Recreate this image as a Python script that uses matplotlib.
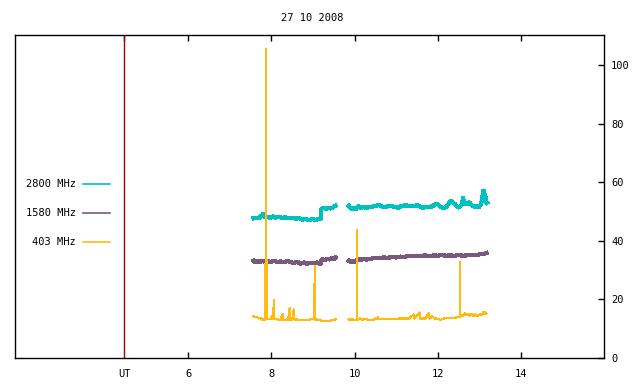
import numpy as np
import matplotlib
matplotlib.use('Agg')
import matplotlib.pyplot as plt
from matplotlib.lines import Line2D

nan = np.nan

title = '27 10 2008'
labels = ['2800 MHz', '1580 MHz', '403 MHz']
colors = ['#00c0c0', '#7a5a7c', '#ffbb11']
ut_hour = 4.46
xtick_vals = [6, 8, 10, 12, 14]
ytick_vals = [0, 20, 40, 60, 80, 100]

t_2800 = [7.57, 7.62, 7.68, 7.74, 7.78, 7.80, 7.82, 7.86, 7.90, 7.96, 8.02, 8.10,
          8.18, 8.26, 8.34, 8.42, 8.50, 8.58, 8.66, 8.74, 8.82, 8.90, 8.98, 9.06,
          9.14, 9.19, 9.20, 9.26, 9.32, 9.38, 9.44, 9.50, 9.54, nan,
          9.86, 9.90, 9.94, 9.98, 10.02, 10.06, 10.10, 10.16, 10.22, 10.28, 10.34,
          10.39, 10.45, 10.52, 10.59, 10.65, 10.71, 10.78, 10.85, 10.92, 10.98,
          11.05, 11.12, 11.20, 11.27, 11.34, 11.42, 11.50, 11.58, 11.64, 11.70,
          11.77, 11.84, 11.92, 11.97, 12.02, 12.08, 12.14, 12.20, 12.26, 12.31,
          12.36, 12.42, 12.47, 12.51, 12.55, 12.59, 12.61, 12.63, 12.66, 12.71,
          12.76, 12.80, 12.84, 12.88, 12.93, 12.98, 13.02, 13.05, 13.08, 13.10,
          13.12, 13.14, 13.16, 13.18]
v_2800 = [47.7, 47.9, 47.6, 48.3, 48.8, 49.3, 48.4, 47.9, 48.2, 47.7, 48.3, 47.9,
          48.2, 47.8, 48.0, 47.7, 47.9, 47.5, 47.8, 47.2, 47.5, 47.0, 47.4, 47.1,
          47.5, 47.3, 50.9, 51.2, 50.8, 51.3, 51.0, 51.6, 51.9, nan,
          51.9, 51.2, 50.7, 51.1, 50.6, 51.4, 51.8, 51.2, 51.7, 51.1, 51.6,
          51.4, 51.8, 51.9, 52.3, 51.7, 51.4, 51.7, 52.0, 51.7, 51.5,
          51.3, 51.8, 52.1, 52.0, 51.8, 51.9, 52.1, 51.7, 51.3, 51.4,
          51.5, 51.6, 52.2, 52.6, 52.2, 51.4, 51.2, 51.5, 52.6, 53.7,
          53.2, 52.4, 51.6, 51.3, 51.9, 52.4, 55.2, 52.6, 52.9, 52.6,
          53.2, 52.4, 51.9, 51.6, 51.7, 51.4, 52.0, 53.0, 55.5, 57.4,
          55.0, 56.2, 53.2, 52.9]

t_1580 = [7.57, 7.60, 7.66, 7.72, 7.78, 7.84, 7.90, 7.98, 8.06, 8.14, 8.22, 8.30,
          8.38, 8.46, 8.54, 8.62, 8.70, 8.78, 8.86, 8.94, 9.02, 9.10, 9.16, 9.19,
          9.21, 9.28, 9.34, 9.40, 9.46, 9.51, 9.54, nan,
          9.86, 9.90, 9.96, 10.02, 10.06, 10.10, 10.16, 10.22, 10.28, 10.36, 10.44,
          10.52, 10.60, 10.70, 10.80, 10.90, 11.00, 11.10, 11.20, 11.30, 11.40,
          11.50, 11.60, 11.70, 11.80, 11.90, 12.00, 12.10, 12.20, 12.30, 12.40,
          12.50, 12.60, 12.70, 12.80, 12.90, 13.00, 13.06, 13.12, 13.17]
v_1580 = [33.2, 32.6, 33.1, 32.8, 33.2, 32.7, 33.0, 32.8, 33.2, 32.7, 33.0, 32.6,
          33.1, 32.8, 32.4, 32.8, 32.2, 32.6, 32.1, 32.5, 32.3, 32.6, 32.0, 32.4,
          33.8, 33.4, 33.9, 33.6, 34.1, 33.8, 34.3, nan,
          33.2, 32.8, 33.1, 32.8, 33.5, 33.8, 33.4, 33.9, 33.6, 33.8, 34.0,
          34.1, 34.0, 34.3, 34.2, 34.4, 34.3, 34.6, 34.5, 34.8, 34.7,
          34.9, 34.8, 35.0, 34.8, 35.0, 34.9, 35.1, 34.9, 35.0, 34.9,
          35.1, 34.9, 35.0, 35.1, 35.2, 35.3, 35.6, 35.5, 35.8]

t_403 = [7.57, 7.61, 7.65, 7.69, 7.74, 7.78, 7.82, 7.855, 7.86, 7.865, 7.87, 7.875,
         7.88, 7.885, 7.94, 7.98, 8.01, 8.04, 8.06, 8.065, 8.12, 8.18, 8.22, 8.27,
         8.275, 8.36, 8.40, 8.44, 8.445, 8.50, 8.54, 8.545, 8.62, 8.70, 8.78, 8.86,
         8.94, 9.035, 9.04, 9.045, 9.10, 9.16, 9.22, 9.30, 9.38, 9.44, 9.50, 9.54, nan,
         9.86, 9.90, 9.94, 9.98, 10.055, 10.06, 10.065, 10.12, 10.18, 10.24, 10.30,
         10.40, 10.50, 10.56, 10.565, 10.70, 10.80, 10.90, 11.00, 11.07, 11.19,
         11.30, 11.43, 11.435, 11.57, 11.575, 11.70, 11.79, 11.795, 11.87, 11.92,
         11.99, 12.07, 12.12, 12.18, 12.28, 12.39, 12.47, 12.535, 12.54, 12.545,
         12.60, 12.66, 12.70, 12.74, 12.78, 12.82, 12.86, 12.90, 12.94, 12.98,
         13.02, 13.06, 13.10, 13.12, 13.14, 13.17]
v_403 = [14.3, 13.9, 14.0, 13.5, 13.6, 13.0, 13.1, 13.2, 34.5, 105.5, 34.0, 13.5,
         33.5, 13.2, 13.3, 13.2, 14.5, 13.3, 20.1, 13.2, 13.3, 13.0, 13.0, 15.0,
         13.0, 13.1, 13.0, 17.1, 13.0, 13.1, 16.7, 13.2, 13.1, 12.9, 12.9, 12.9,
         13.2, 13.2, 31.7, 13.1, 13.1, 12.9, 12.6, 12.6, 12.6, 12.8, 13.0, 13.2, nan,
         13.2, 13.0, 13.4, 13.0, 13.1, 43.7, 13.0, 13.5, 13.0, 13.4, 13.1,
         13.0, 13.2, 13.9, 13.2, 13.2, 13.2, 13.3, 13.3, 13.5, 13.5,
         13.4, 14.9, 13.4, 15.6, 13.4, 13.5, 15.3, 13.4, 14.2, 13.5,
         13.4, 13.0, 13.3, 13.7, 13.7, 13.7, 13.9, 14.0, 33.0, 14.2,
         14.4, 15.3, 14.5, 15.2, 14.3, 15.1, 14.4, 15.0, 14.3, 14.6,
         15.0, 14.6, 15.9, 14.9, 15.6, 15.2]

plt.rcParams['font.family'] = 'DejaVu Sans Mono'
plt.rcParams['font.size'] = 7.5

fig = plt.figure(figsize=(6.4, 3.84), dpi=100)
ax = fig.add_axes([15 / 640, 26 / 384, 589 / 640, 323 / 384])

# no antialiasing, closer to the original gnuplot png; bevel joins keep spikes thin
ax.plot(t_2800, v_2800, color=colors[0], lw=2.3, solid_joinstyle='bevel', antialiased=False)
ax.plot(t_1580, v_1580, color=colors[1], lw=2.3, solid_joinstyle='bevel', antialiased=False)
ax.plot(t_403, v_403, color=colors[2], lw=0.9, solid_joinstyle='bevel', antialiased=False)
ax.axvline(ut_hour, color='#a00000', lw=1)

ax.set_xlim(1.83, 16.0)
ax.set_ylim(0, 110.2)

ax.set_xticks([ut_hour] + xtick_vals)
ax.set_xticklabels(['UT'] + [str(v) for v in xtick_vals])
ax.xaxis.get_major_ticks()[0].tick1line.set_visible(False)
ax.xaxis.get_major_ticks()[0].tick2line.set_visible(False)
ax.tick_params(axis='x', direction='in', top=True, length=4, width=1, pad=8)

ax.yaxis.tick_right()
ax.set_yticks(ytick_vals)
ax.tick_params(axis='y', direction='in', left=False, right=True, length=4, width=1, pad=5)

for s in ax.spines.values():
    s.set_linewidth(1)

fig.text(312 / 640, 1 - 18 / 384, title, ha='center', va='center')

for i, (lab, c) in enumerate(zip(labels, colors)):
    y = 1 - (184 + 29 * i) / 384
    fig.text(76 / 640, y, lab, ha='right', va='center')
    fig.add_artist(Line2D([83 / 640, 110 / 640], [y, y], color=c, lw=1.2,
                          transform=fig.transFigure))

fig.savefig('out.png', dpi=100)
